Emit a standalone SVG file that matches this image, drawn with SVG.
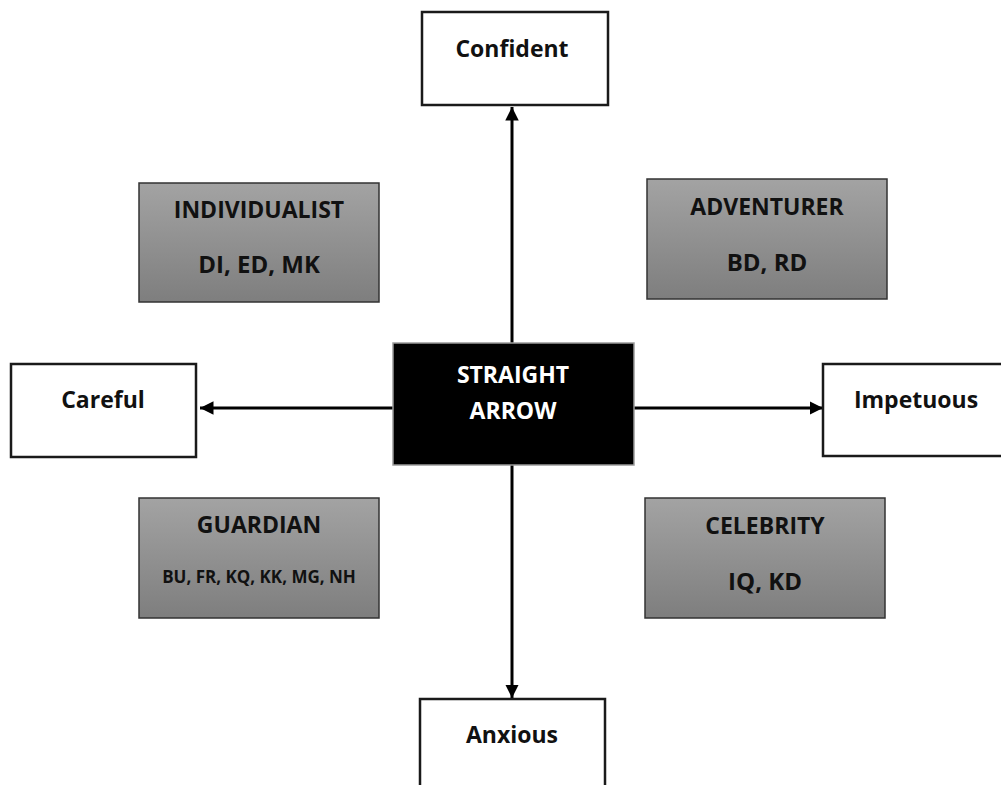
<svg xmlns="http://www.w3.org/2000/svg" width="1001" height="785" viewBox="0 0 1001 785">
  <style>
    .box { fill: #ffffff; stroke: #1a1a1a; stroke-width: 2.5; }
    .quad { fill: url(#greyFill); stroke: #333333; stroke-width: 1.5; }
    .core { fill: #000000; stroke: #9a9a9a; stroke-width: 1.5; }
    .lbl { font-family: "Open Sans", "Liberation Sans", sans-serif; font-weight: bold; fill: #111111; text-anchor: middle; }
    .axis { font-size: 23px; }
    .title { font-size: 23px; }
    .names { font-size: 24px; }
    .small { font-size: 17px; }
    .core-lbl { font-size: 23px; fill: #ffffff; }
    .conn { stroke: #000000; stroke-width: 3; fill: none; marker-end: url(#head); }
  </style>
  <defs>
    <linearGradient id="greyFill" x1="0" y1="0" x2="0" y2="1">
      <stop offset="0" stop-color="#a3a3a3"/>
      <stop offset="1" stop-color="#7e7e7e"/>
    </linearGradient>
    <marker id="head" viewBox="0 0 10 10" refX="10" refY="5" markerWidth="4.5" markerHeight="4.5" orient="auto" markerUnits="strokeWidth">
      <path d="M0,0 L10,5 L0,10 Z" fill="#000000"/>
    </marker>
  </defs>

  <rect width="1001" height="785" fill="#ffffff"/>

  <g id="connectors">
    <line class="conn" x1="512" y1="343" x2="512" y2="107"/>
    <line class="conn" x1="512" y1="465" x2="512" y2="698"/>
    <line class="conn" x1="393" y1="408" x2="200" y2="408"/>
    <line class="conn" x1="634" y1="408" x2="823" y2="408"/>
  </g>

  <g id="confident">
    <rect class="box" x="422" y="12" width="186" height="93"/>
    <text class="lbl axis" x="512" y="57">Confident</text>
  </g>

  <g id="anxious">
    <rect class="box" x="420" y="699" width="185" height="100"/>
    <text class="lbl axis" x="512" y="743">Anxious</text>
  </g>

  <g id="careful">
    <rect class="box" x="11" y="364" width="185" height="93"/>
    <text class="lbl axis" x="103" y="408">Careful</text>
  </g>

  <g id="impetuous">
    <rect class="box" x="823" y="364" width="190" height="92"/>
    <text class="lbl axis" x="916" y="408">Impetuous</text>
  </g>

  <g id="straight-arrow">
    <rect class="core" x="393" y="343" width="241" height="122"/>
    <text class="lbl core-lbl" x="513" y="383">STRAIGHT</text>
    <text class="lbl core-lbl" x="513" y="419">ARROW</text>
  </g>

  <g id="individualist">
    <rect class="quad" x="139" y="183" width="240" height="119"/>
    <text class="lbl title" x="259" y="218">INDIVIDUALIST</text>
    <text class="lbl names" x="259" y="273">DI, ED, MK</text>
  </g>

  <g id="adventurer">
    <rect class="quad" x="647" y="179" width="240" height="120"/>
    <text class="lbl title" x="767" y="215">ADVENTURER</text>
    <text class="lbl names" x="767" y="271">BD, RD</text>
  </g>

  <g id="guardian">
    <rect class="quad" x="139" y="498" width="240" height="120"/>
    <text class="lbl title" x="259" y="533">GUARDIAN</text>
    <text class="lbl small" x="259" y="583">BU, FR, KQ, KK, MG, NH</text>
  </g>

  <g id="celebrity">
    <rect class="quad" x="645" y="498" width="240" height="120"/>
    <text class="lbl title" x="765" y="534">CELEBRITY</text>
    <text class="lbl names" x="765" y="590">IQ, KD</text>
  </g>
</svg>
